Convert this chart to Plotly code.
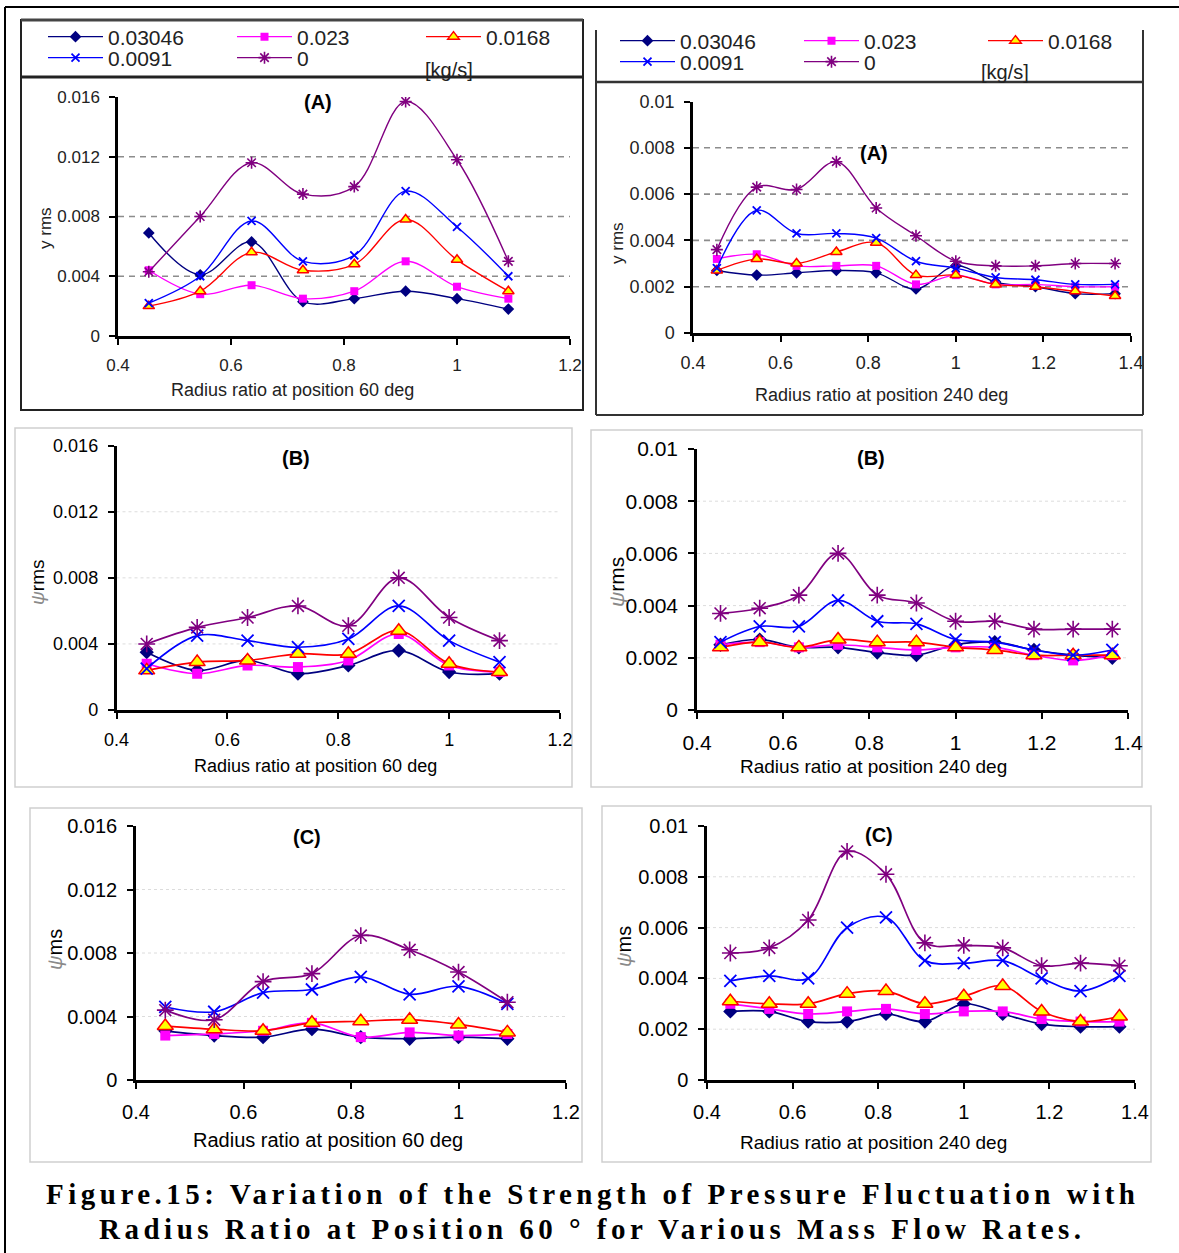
import plotly.graph_objects as go

W, H = 1179, 1253

FLOW_RATES = ["0.03046", "0.023", "0.0168", "0.0091", "0"]

# radius ratios of the pressure taps
R_60 = [0.4545, 0.5455, 0.6364, 0.7273, 0.8182, 0.9091, 1.0, 1.0909]
R_240 = [0.4545, 0.5455, 0.6364, 0.7273, 0.8182, 0.9091, 1.0, 1.0909, 1.1818, 1.2727, 1.3636]

X_TICKS_60 = [0.4, 0.6, 0.8, 1.0, 1.2]
X_LABELS_60 = ["0.4", "0.6", "0.8", "1", "1.2"]
X_TICKS_240 = [0.4, 0.6, 0.8, 1.0, 1.2, 1.4]
X_LABELS_240 = ["0.4", "0.6", "0.8", "1", "1.2", "1.4"]
Y_TICKS_60 = [0, 0.004, 0.008, 0.012, 0.016]
Y_LABELS_60 = ["0", "0.004", "0.008", "0.012", "0.016"]
Y_TICKS_240 = [0, 0.002, 0.004, 0.006, 0.008, 0.01]
Y_LABELS_240 = ["0", "0.002", "0.004", "0.006", "0.008", "0.01"]
GRID_60 = [0.004, 0.008, 0.012]
GRID_240 = [0.002, 0.004, 0.006, 0.008]

# (A) position 60 deg
A60_03046 = [0.0069, 0.0041, 0.0063, 0.0023, 0.0025, 0.0030, 0.0025, 0.0018]
A60_023 = [0.0044, 0.0028, 0.0034, 0.0025, 0.0030, 0.0050, 0.0033, 0.0025]
A60_0168 = [0.0020, 0.0030, 0.0056, 0.0044, 0.0048, 0.0078, 0.0051, 0.0030]
A60_0091 = [0.0022, 0.0040, 0.0077, 0.0050, 0.0054, 0.0097, 0.0073, 0.0040]
A60_0 = [0.0043, 0.0080, 0.0116, 0.0095, 0.0100, 0.0157, 0.0118, 0.0050]

# (A) position 240 deg
A240_03046 = [0.0027, 0.0025, 0.0026, 0.0027, 0.0026, 0.0019, 0.0029, 0.0022, 0.0020, 0.0017, 0.0017]
A240_023 = [0.0032, 0.0034, 0.0029, 0.0029, 0.0029, 0.0021, 0.0025, 0.0021, 0.0021, 0.0020, 0.0020]
A240_0168 = [0.0027, 0.0032, 0.0030, 0.0035, 0.0039, 0.0025, 0.0025, 0.0021, 0.0020, 0.0018, 0.0016]
A240_0091 = [0.0028, 0.0053, 0.0043, 0.0043, 0.0041, 0.0031, 0.0028, 0.0024, 0.0023, 0.0021, 0.0021]
A240_0 = [0.0036, 0.0063, 0.0062, 0.0074, 0.0054, 0.0042, 0.0031, 0.0029, 0.0029, 0.0030, 0.0030]

# (B) position 60 deg
B60_03046 = [0.0035, 0.0024, 0.0030, 0.0022, 0.0027, 0.0036, 0.0023, 0.0022]
B60_023 = [0.0028, 0.0022, 0.0027, 0.0026, 0.0030, 0.0046, 0.0027, 0.0023]
B60_0168 = [0.0024, 0.0029, 0.0030, 0.0034, 0.0034, 0.0048, 0.0028, 0.0023]
B60_0091 = [0.0025, 0.0045, 0.0042, 0.0038, 0.0043, 0.0063, 0.0042, 0.0029]
B60_0 = [0.0040, 0.0050, 0.0056, 0.0063, 0.0051, 0.0080, 0.0056, 0.0042]

# (B) position 240 deg
B240_03046 = [0.0025, 0.0027, 0.0024, 0.0024, 0.0022, 0.0021, 0.0025, 0.0026, 0.0023, 0.0021, 0.0020]
B240_023 = [0.0025, 0.0026, 0.0024, 0.0025, 0.0024, 0.0023, 0.0024, 0.0024, 0.0021, 0.0019, 0.0021]
B240_0168 = [0.0024, 0.0026, 0.0024, 0.0027, 0.0026, 0.0026, 0.0024, 0.0023, 0.0021, 0.0021, 0.0021]
B240_0091 = [0.0026, 0.0032, 0.0032, 0.0042, 0.0034, 0.0033, 0.0027, 0.0026, 0.0023, 0.0021, 0.0023]
B240_0 = [0.0037, 0.0039, 0.0044, 0.0060, 0.0044, 0.0041, 0.0034, 0.0034, 0.0031, 0.0031, 0.0031]

# (C) position 60 deg
C60_03046 = [0.0031, 0.0028, 0.0027, 0.0032, 0.0027, 0.0026, 0.0027, 0.0026]
C60_023 = [0.0028, 0.0029, 0.0031, 0.0036, 0.0027, 0.0030, 0.0028, 0.0029]
C60_0168 = [0.0034, 0.0032, 0.0031, 0.0036, 0.0037, 0.0038, 0.0035, 0.0030]
C60_0091 = [0.0046, 0.0043, 0.0055, 0.0057, 0.0065, 0.0054, 0.0059, 0.0048]
C60_0 = [0.0044, 0.0038, 0.0062, 0.0067, 0.0091, 0.0082, 0.0068, 0.0049]

# (C) position 240 deg
C240_03046 = [0.0027, 0.0027, 0.0023, 0.0023, 0.0026, 0.0023, 0.0030, 0.0026, 0.0022, 0.0021, 0.0021]
C240_023 = [0.0030, 0.0028, 0.0026, 0.0027, 0.0028, 0.0026, 0.0027, 0.0027, 0.0024, 0.0023, 0.0023]
C240_0168 = [0.0031, 0.0030, 0.0030, 0.0034, 0.0035, 0.0030, 0.0033, 0.0037, 0.0027, 0.0023, 0.0025]
C240_0091 = [0.0039, 0.0041, 0.0040, 0.0060, 0.0064, 0.0047, 0.0046, 0.0047, 0.0040, 0.0035, 0.0041]
C240_0 = [0.0050, 0.0052, 0.0063, 0.0090, 0.0081, 0.0054, 0.0053, 0.0052, 0.0045, 0.0046, 0.0045]

CAPTION_1 = "Figure.15: Variation of the Strength of Pressure Fluctuation with"
CAPTION_2 = "Radius Ratio at Position 60 \u00b0 for Various Mass Flow Rates."

SANS = "Liberation Sans, Arial, sans-serif"

SERIES_STYLE = {
    "0.03046": dict(line="#000080", symbol="diamond", fill="#000080", edge="#000080", ew=0),
    "0.023": dict(line="#FF00FF", symbol="square", fill="#FF00FF", edge="#FF00FF", ew=0),
    "0.0168": dict(line="#FF0000", symbol="triangle-up", fill="#FFFF00", edge="#FF0000", ew=1.5),
    "0.0091": dict(line="#0000FF", symbol="x-thin", fill="#0000FF", edge="#0000FF", ew=1.8),
    "0": dict(line="#800080", symbol="asterisk", fill="#800080", edge="#800080", ew=1.6),
}
SIZES_SMALL = [9, 8, 10, 8, 10]
SIZES_LARGE = [11, 10, 14, 12, 14]

PANELS = [
    dict(n=1, r=R_60, series=[A60_03046, A60_023, A60_0168, A60_0091, A60_0],
         xt=(X_TICKS_60, X_LABELS_60), yt=(Y_TICKS_60, Y_LABELS_60), grid=GRID_60,
         xr=[0.4, 1.2], yr=[0, 0.016], px=(118, 570), py=(97, 336),
         sizes=SIZES_SMALL, lw=1.4, tickfont=17, tickcolor="#222", legends=("legend", "legend2"),
         gstyle=dict(color="#8c8c8c", width=1.6, dash="6px,5px"),
         label="(A)", label_at=(318, 102),
         xtitle="Radius ratio at position 60 deg", xtitle_at=(292, 390), xtitle_size=18,
         ytitle="y rms", ytitle_at=(45, 228), ytitle_size=17),
    dict(n=2, r=R_240, series=[A240_03046, A240_023, A240_0168, A240_0091, A240_0],
         xt=(X_TICKS_240, X_LABELS_240), yt=(Y_TICKS_240, Y_LABELS_240), grid=GRID_240,
         xr=[0.4, 1.4], yr=[0, 0.01], px=(693, 1131), py=(101.5, 333),
         sizes=SIZES_SMALL, lw=1.4, tickfont=18, tickcolor="#222", legends=("legend3", "legend4"),
         gstyle=dict(color="#8c8c8c", width=1.6, dash="6px,5px"),
         label="(A)", label_at=(874, 153),
         xtitle="Radius ratio at position 240 deg", xtitle_at=(881, 395), xtitle_size=18,
         ytitle="y rms", ytitle_at=(618, 243), ytitle_size=17),
    dict(n=3, r=R_60, series=[B60_03046, B60_023, B60_0168, B60_0091, B60_0],
         xt=(X_TICKS_60, X_LABELS_60), yt=(Y_TICKS_60, Y_LABELS_60), grid=GRID_60,
         xr=[0.4, 1.2], yr=[0, 0.016], px=(116.5, 560), py=(445.7, 710),
         sizes=SIZES_LARGE, lw=1.7, tickfont=18, tickcolor="black", legends=None,
         gstyle=dict(color="#dcdcdc", width=1, dash="dot"),
         label="(B)", label_at=(296, 458),
         xtitle="Radius ratio at position 60 deg", xtitle_at=(315, 766), xtitle_size=18,
         ytitle="rms", ytitle_at=(37, 583), ytitle_size=19),
    dict(n=4, r=R_240, series=[B240_03046, B240_023, B240_0168, B240_0091, B240_0],
         xt=(X_TICKS_240, X_LABELS_240), yt=(Y_TICKS_240, Y_LABELS_240), grid=GRID_240,
         xr=[0.4, 1.4], yr=[0, 0.01], px=(697, 1128), py=(449, 710),
         sizes=SIZES_LARGE, lw=1.7, tickfont=21, tickcolor="black", legends=None,
         gstyle=dict(color="#dcdcdc", width=1, dash="dot"),
         label="(B)", label_at=(871, 458),
         xtitle="Radius ratio at position 240 deg", xtitle_at=(873, 766), xtitle_size=19,
         ytitle="rms", ytitle_at=(616, 582), ytitle_size=21),
    dict(n=5, r=R_60, series=[C60_03046, C60_023, C60_0168, C60_0091, C60_0],
         xt=(X_TICKS_60, X_LABELS_60), yt=(Y_TICKS_60, Y_LABELS_60), grid=GRID_60,
         xr=[0.4, 1.2], yr=[0, 0.016], px=(136, 566), py=(826, 1080),
         sizes=SIZES_LARGE, lw=1.7, tickfont=20, tickcolor="black", legends=None,
         gstyle=dict(color="#dcdcdc", width=1, dash="dot"),
         label="(C)", label_at=(307, 837),
         xtitle="Radius ratio at position 60 deg", xtitle_at=(328, 1140), xtitle_size=20,
         ytitle="ms", ytitle_at=(55, 950), ytitle_size=20),
    dict(n=6, r=R_240, series=[C240_03046, C240_023, C240_0168, C240_0091, C240_0],
         xt=(X_TICKS_240, X_LABELS_240), yt=(Y_TICKS_240, Y_LABELS_240), grid=GRID_240,
         xr=[0.4, 1.4], yr=[0, 0.01], px=(707, 1135), py=(826, 1080),
         sizes=SIZES_LARGE, lw=1.7, tickfont=20, tickcolor="black", legends=None,
         gstyle=dict(color="#dcdcdc", width=1, dash="dot"),
         label="(C)", label_at=(879, 835),
         xtitle="Radius ratio at position 240 deg", xtitle_at=(873, 1142), xtitle_size=19,
         ytitle="ms", ytitle_at=(624, 947), ytitle_size=20),
]


def fx(v):
    return v / W


def fy(v):
    return 1 - v / H


fig = go.Figure()
layout = {}
shapes = []
annotations = []

for p in PANELS:
    n = p["n"]
    sfx = "" if n == 1 else str(n)
    xa, ya = "x" + sfx, "y" + sfx
    for i, (name, vals) in enumerate(zip(FLOW_RATES, p["series"])):
        st = SERIES_STYLE[name]
        legend_id = None
        if p["legends"]:
            legend_id = p["legends"][0] if i < 3 else p["legends"][1]
        fig.add_trace(go.Scatter(
            x=p["r"], y=vals, xaxis=xa, yaxis=ya, name=name,
            mode="lines+markers",
            line=dict(color=st["line"], width=p["lw"], shape="spline", smoothing=1),
            marker=dict(symbol=st["symbol"], size=p["sizes"][i], color=st["fill"],
                        line=dict(color=st["edge"], width=st["ew"])),
            showlegend=legend_id is not None,
            legend=legend_id or "legend",
        ))

    axis_common = dict(showline=True, linecolor="black", linewidth=2.5,
                       ticks="outside", ticklen=6, tickwidth=2, tickcolor="black",
                       showgrid=False, zeroline=False, fixedrange=True,
                       tickfont=dict(family=SANS, size=p["tickfont"], color=p["tickcolor"]))
    layout["xaxis" + sfx] = dict(axis_common, domain=[fx(p["px"][0]), fx(p["px"][1])],
                                 range=p["xr"], anchor=ya,
                                 tickvals=p["xt"][0], ticktext=p["xt"][1],
                                 ticklabelstandoff=6)
    layout["yaxis" + sfx] = dict(axis_common, domain=[fy(p["py"][1]), fy(p["py"][0])],
                                 range=p["yr"], anchor=xa,
                                 tickvals=p["yt"][0], ticktext=p["yt"][1],
                                 ticklabelstandoff=6)

    for g in p["grid"]:
        shapes.append(dict(type="line", xref=xa + " domain", yref=ya, x0=0, x1=1, y0=g, y1=g,
                           line=p["gstyle"], layer="below"))

    annotations.append(dict(text="<b>%s</b>" % p["label"], x=fx(p["label_at"][0]), y=fy(p["label_at"][1]),
                            xref="paper", yref="paper", showarrow=False, xanchor="center", yanchor="middle",
                            font=dict(family=SANS, size=20, color="black")))
    annotations.append(dict(text=p["xtitle"], x=fx(p["xtitle_at"][0]), y=fy(p["xtitle_at"][1]),
                            xref="paper", yref="paper", showarrow=False, xanchor="center", yanchor="middle",
                            font=dict(family=SANS, size=p["xtitle_size"], color=p["tickcolor"])))
    if n <= 2:
        ytxt = p["ytitle"]
    else:
        ytxt = '<span style="color:#8a8a8a"><i>\u03c8</i></span>' + p["ytitle"]
    annotations.append(dict(text=ytxt, x=fx(p["ytitle_at"][0]), y=fy(p["ytitle_at"][1]),
                            xref="paper", yref="paper", showarrow=False, textangle=-90,
                            xanchor="center", yanchor="middle",
                            font=dict(family=SANS, size=p["ytitle_size"], color=p["tickcolor"])))


def line_shape(x0, y0, x1, y1, color="black", width=2):
    return dict(type="line", xref="paper", yref="paper", x0=fx(x0), y0=fy(y0), x1=fx(x1), y1=fy(y1),
                line=dict(color=color, width=width), layer="above")


def rect_shape(x0, y0, x1, y1, color, width):
    return dict(type="rect", xref="paper", yref="paper", x0=fx(x0), y0=fy(y0), x1=fx(x1), y1=fy(y1),
                line=dict(color=color, width=width), fillcolor="rgba(0,0,0,0)", layer="below")


# page frame
shapes += [line_shape(5, 7, W, 7, width=2), line_shape(5, 7, 5, H, width=2)]
# framed panels (A)
shapes += [rect_shape(21, 20, 583, 410, "#222", 2), line_shape(21, 20, 583, 20, "#444", 3),
           line_shape(21, 77, 583, 77, "#222", 3)]
shapes += [line_shape(596, 30, 596, 415, "#333", 2), line_shape(1143, 30, 1143, 415, "#333", 2),
           line_shape(596, 415, 1143, 415, "#333", 2), line_shape(596, 82, 1143, 82, "#333", 2.5)]
# light boxes (B), (C)
shapes += [rect_shape(15, 428, 572, 787, "#cfcfcf", 1.5), rect_shape(591, 430, 1142, 787, "#cfcfcf", 1.5),
           rect_shape(30, 808, 582, 1162, "#cfcfcf", 1.5), rect_shape(602, 806, 1151, 1162, "#cfcfcf", 1.5)]

# unit label beside the legends
for ux, uy in [(449, 70), (1005, 72)]:
    annotations.append(dict(text="[kg/s]", x=fx(ux), y=fy(uy), xref="paper", yref="paper", showarrow=False,
                            xanchor="center", yanchor="middle", font=dict(family=SANS, size=20, color="#222")))

# caption
for txt, cy in [(CAPTION_1, 1194), (CAPTION_2, 1229)]:
    annotations.append(dict(text='<b><span style="letter-spacing:4.5px">%s</span></b>' % txt,
                            x=0.5 + 3 / W, y=fy(cy), xref="paper", yref="paper", showarrow=False,
                            xanchor="center", yanchor="middle",
                            font=dict(family="Liberation Serif, Times New Roman, serif", size=29, color="black")))

legend_common = dict(orientation="h", xanchor="left", yanchor="middle", itemwidth=55,
                     entrywidthmode="pixels", bgcolor="rgba(0,0,0,0)", borderwidth=0,
                     font=dict(family=SANS, size=21, color="#222"), itemclick=False, itemdoubleclick=False)

layout.update(
    legend=dict(legend_common, x=fx(43), y=fy(37), entrywidth=119),
    legend2=dict(legend_common, x=fx(43), y=fy(58), entrywidth=119),
    legend3=dict(legend_common, x=fx(615), y=fy(41), entrywidth=114),
    legend4=dict(legend_common, x=fx(615), y=fy(62), entrywidth=114),
)

fig.update_layout(
    width=W, height=H, margin=dict(l=0, r=0, t=0, b=0, autoexpand=False),
    paper_bgcolor="white", plot_bgcolor="white",
    shapes=shapes, annotations=annotations, **layout,
)

fig.write_html("out.html", config={"displayModeBar": False},
               post_script="document.body.style.margin='0';")
